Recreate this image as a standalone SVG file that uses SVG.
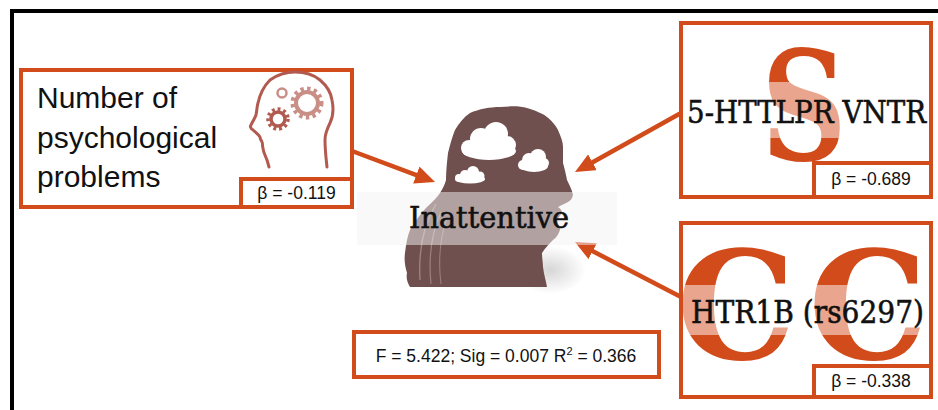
<svg xmlns="http://www.w3.org/2000/svg" width="938" height="410" viewBox="0 0 938 410">
  <style>
    .box { fill: #ffffff; stroke: #D24B1A; stroke-width: 4; }
    .beta { fill: #ffffff; stroke: #D24B1A; stroke-width: 4; }
    .sans { font-family: "Liberation Sans", Arial, sans-serif; fill: #111111; }
    .slab { font-family: "DejaVu Serif", "Liberation Serif", serif; fill: #111111; stroke: #111111; stroke-width: 0.6; }
    .glyph { font-family: "DejaVu Serif", "Liberation Serif", serif; font-weight: bold; fill: #D24B1A; }
    .band { fill: #f4f4f4; fill-opacity: 0.5; }
    .conn { stroke: #D24B1A; stroke-width: 4.5; fill: none; marker-end: url(#head); }
    .icon { fill: none; stroke: #b25a50; stroke-width: 3; stroke-linecap: round; stroke-linejoin: round; }
  </style>
  <defs>
    <marker id="head" viewBox="0 0 20 18" refX="8" refY="9" markerWidth="20" markerHeight="18" markerUnits="userSpaceOnUse" orient="auto">
      <path d="M0,0 L20,9 L0,18 Z" fill="#D24B1A"/>
    </marker>
    <radialGradient id="shade" cx="0.5" cy="0.5" r="0.5">
      <stop offset="0" stop-color="#8a8a8a" stop-opacity="0.35"/>
      <stop offset="1" stop-color="#8a8a8a" stop-opacity="0"/>
    </radialGradient>
  </defs>

  <rect width="938" height="410" fill="#ffffff"/>
  <!-- outer frame -->
  <rect x="12" y="11" width="950" height="420" fill="none" stroke="#000000" stroke-width="4"/>

  <!-- connectors -->
  <g id="connectors">
    <line class="conn" x1="352" y1="151" x2="423.8" y2="177.8"/>
    <line class="conn" x1="681" y1="113" x2="585.5" y2="166.2"/>
    <line class="conn" x1="683" y1="298" x2="585.6" y2="247.5"/>
  </g>

  <!-- outcome: inattentive -->
  <g id="inattentive">
    <ellipse cx="550" cy="270" rx="36" ry="24" fill="url(#shade)"/>
    <path fill="#6f504e" d="M500 107 C512 106 520 106 527 108 C536 111 542 113 547 117 C553 122 556 126 558 130 C561 137 563 142 563 147 L563 163 C565 170 566 175 567 180 C570 186 572 190 573 195 C572 199 570 201 568 202 C565 204 561 205 558 207 C561 209 562 211 562 213 C560 216 558 218 557 220 C558 224 560 227 560 230 C558 235 556 238 553 240 C549 244 545 248 542 253 C542 258 543 263 543 267 C544 275 546 281 547 287 L410 287 C407 282 406 278 407 273 C405 266 404 260 405 253 C406 245 407 237 410 230 C415 221 421 213 427 207 C432 202 437 198 440 193 C443 188 445 184 446 180 C446 171 447 162 448 153 C450 145 452 137 455 130 C459 123 464 117 470 113 C479 109 490 107 500 107 Z"/>
    <!-- hair strands -->
    <path d="M436 204 C425 222 418 245 420 280" fill="none" stroke="#9c8280" stroke-width="1.4"/>
    <path d="M441 212 C432 232 428 255 431 284" fill="none" stroke="#9c8280" stroke-width="1.2"/>
    <path d="M447 218 C440 238 438 260 441 284" fill="none" stroke="#9c8280" stroke-width="1"/>
    <!-- clouds -->
    <g fill="#ffffff">
      <ellipse cx="489" cy="151" rx="27" ry="9"/>
      <circle cx="481" cy="139" r="11"/>
      <circle cx="496" cy="134" r="12"/>
      <circle cx="507" cy="145" r="9"/>
      <circle cx="469" cy="148" r="8"/>
      <ellipse cx="534" cy="166" rx="14" ry="6"/>
      <circle cx="529" cy="160" r="7"/>
      <circle cx="538" cy="157" r="8"/>
      <circle cx="544" cy="163" r="5"/>
      <circle cx="523" cy="165" r="5"/>
      <ellipse cx="470" cy="179" rx="15" ry="4.5"/>
      <circle cx="465" cy="175" r="5"/>
      <circle cx="473" cy="172" r="6"/>
      <circle cx="480" cy="176" r="4.5"/>
      <circle cx="459" cy="178" r="4"/>
    </g>
    <rect class="band" x="357" y="192" width="260" height="53"/>
    <text class="slab" x="409" y="228" font-size="29" textLength="160" lengthAdjust="spacingAndGlyphs">Inattentive</text>
  </g>

  <!-- predictor: psychological problems -->
  <g id="psych">
    <rect class="box" x="21" y="70" width="331" height="137"/>
    <text class="sans" font-size="30"><tspan x="37" y="108">Number of</tspan><tspan x="37" y="148">psychological</tspan><tspan x="37" y="187">problems</tspan></text>
    <g id="gear-head">
      <path class="icon" d="M269 167 L267 160 C265 155 263 151 263 148 C262 146 263 143 262 142 C261 140 260 139 260 137 C258 134 255 132 253 130 C250 128 250 126 251 125 C253 121 255 118 256 115 C257 110 257 106 258 103 C260 94 264 86 270 80 C277 75 286 72 295 72 C305 72 314 75 320 80 C327 86 331 93 332 100 C334 110 333 117 330 123 C327 129 325 134 325 140 C325 150 326 158 327 167"/>
      <circle cx="307" cy="103" r="11" fill="none" stroke="#c98e86" stroke-width="4"/>
      <circle cx="307" cy="103" r="14.5" fill="none" stroke="#c98e86" stroke-width="4" stroke-dasharray="3.4 3.4"/>
      <circle cx="278" cy="119" r="7" fill="none" stroke="#b25a50" stroke-width="3.5"/>
      <circle cx="278" cy="119" r="10" fill="none" stroke="#b25a50" stroke-width="3.5" stroke-dasharray="2.9 2.9"/>
      <circle cx="282" cy="93" r="4.5" fill="none" stroke="#c98e86" stroke-width="2.5"/>
    </g>
    <rect class="beta" x="241" y="179" width="111" height="28"/>
    <text class="sans" x="296.5" y="199" font-size="17.5" text-anchor="middle">β = -0.119</text>
  </g>

  <!-- predictor: 5-HTTLPR VNTR -->
  <g id="httlpr">
    <rect class="box" x="681" y="23" width="250" height="174"/>
    <text class="glyph" transform="translate(804 160) scale(0.78 1)" font-size="152" text-anchor="middle">S</text>
    <rect class="band" x="683" y="82" width="246" height="56" style="fill:#ffffff"/>
    <text class="slab" x="687" y="123" font-size="32" textLength="239" lengthAdjust="spacingAndGlyphs">5-HTTLPR VNTR</text>
    <rect class="beta" x="814" y="163" width="117" height="34"/>
    <text class="sans" x="871" y="185" font-size="17.5" text-anchor="middle">β = -0.689</text>
  </g>

  <!-- predictor: HTR1B (rs6297) -->
  <g id="htr1b">
    <rect class="box" x="681" y="223" width="250" height="174"/>
    <text class="glyph" x="736" y="359" font-size="150" text-anchor="middle">C</text>
    <text class="glyph" x="868" y="359" font-size="150" text-anchor="middle">C</text>
    <rect class="band" x="683" y="285" width="246" height="50" style="fill:#ffffff"/>
    <text class="slab" x="691" y="323" font-size="32" textLength="233" lengthAdjust="spacingAndGlyphs">HTR1B (rs6297)</text>
    <rect class="beta" x="814" y="366" width="117" height="31"/>
    <text class="sans" x="871" y="387" font-size="17.5" text-anchor="middle">β = -0.338</text>
  </g>

  <!-- model fit -->
  <g id="model-fit">
    <rect class="box" x="354" y="332" width="305" height="45"/>
    <text class="sans" x="506" y="362" font-size="17.5" text-anchor="middle">F = 5.422; Sig = 0.007 R<tspan font-size="11" dy="-7">2</tspan><tspan dy="7"> = 0.366</tspan></text>
  </g>
</svg>
